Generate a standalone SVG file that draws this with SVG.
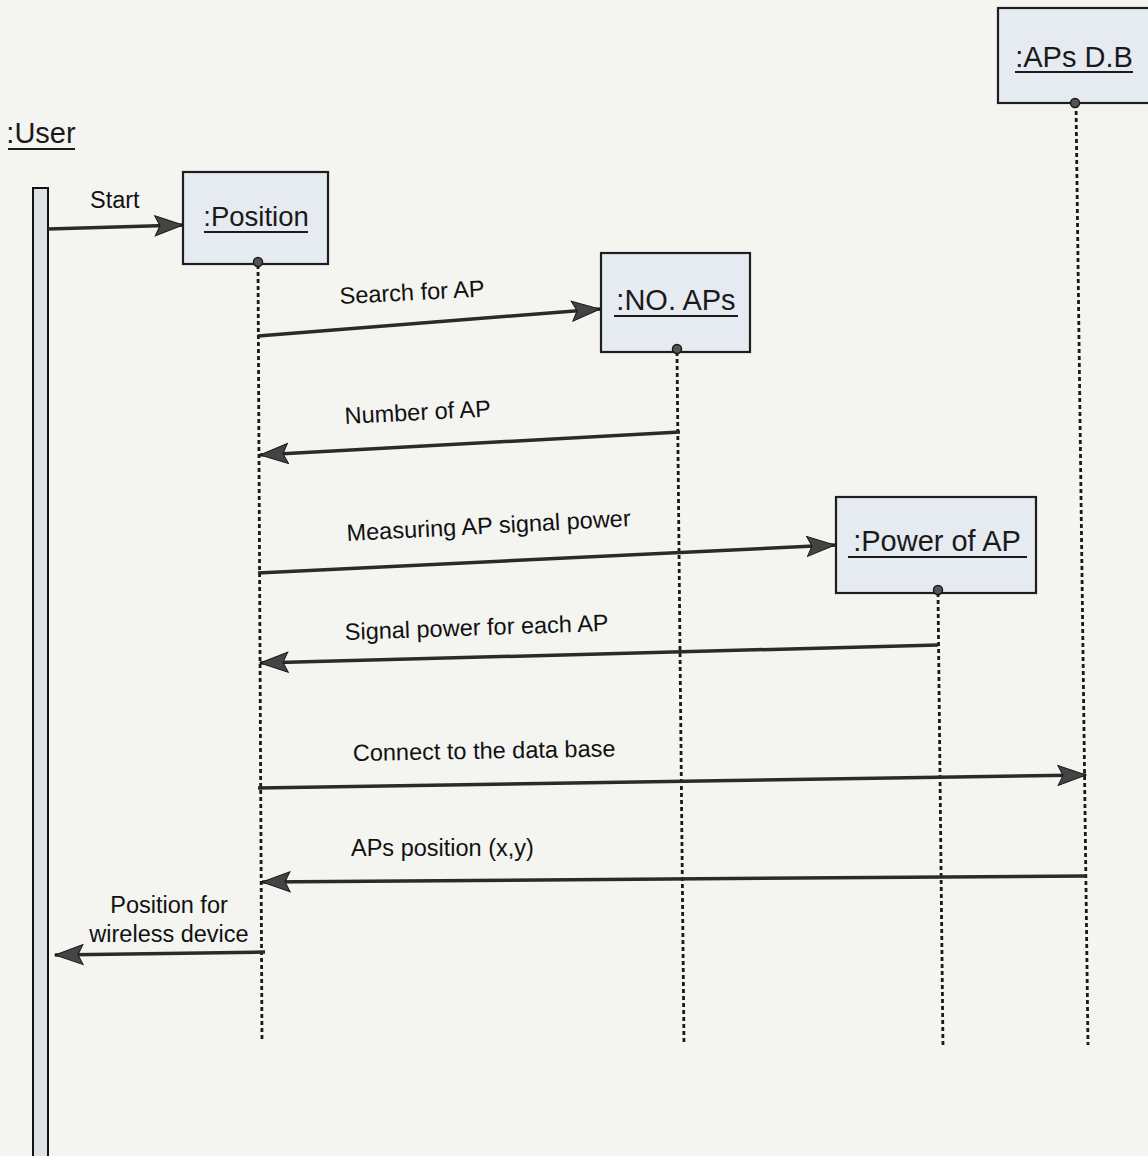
<svg xmlns="http://www.w3.org/2000/svg" width="1148" height="1156" viewBox="0 0 1148 1156">
<style>
.bg{fill:#f4f4f1}
.box{fill:#e6eaf1;stroke:#1e1e1e;stroke-width:2.2}
.title{font-family:"Liberation Sans",Arial,sans-serif;font-size:29px;fill:#1a1a1a;text-anchor:middle}
.ul{stroke:#1a1a1a;stroke-width:2}
.life{stroke:#1a1a1a;stroke-width:2.8;stroke-dasharray:4 3;fill:none}
.dot{fill:#555;stroke:#1a1a1a;stroke-width:1.5}
.msg{stroke:#2a2a2a;stroke-width:3.5;fill:none;marker-end:url(#arr)}
.lbl{font-family:"Liberation Sans",Arial,sans-serif;font-size:23.5px;fill:#111}
.act{fill:#dfe2e5;stroke:#111;stroke-width:2}
</style>
<defs>
<marker id="arr" markerUnits="userSpaceOnUse" markerWidth="32" markerHeight="22" refX="29" refY="11" orient="auto">
<path d="M1,1 L29,11 L1,21 L6,11 Z" fill="#444" stroke="#1a1a1a" stroke-width="1"/>
</marker>
</defs>
<rect class="bg" x="0" y="0" width="1148" height="1156"/>

<g id="user">
<text class="title" x="41" y="143">:User</text>
<line class="ul" x1="8" y1="149" x2="75" y2="149"/>
<rect class="act" x="33" y="188" width="15" height="975"/>
</g>

<g id="position">
<rect class="box" x="183" y="172" width="145" height="92"/>
<text class="title" x="256" y="226" style="font-size:27.5px">:Position</text>
<line class="ul" x1="204" y1="232" x2="308" y2="232"/>
<line class="life" x1="258" y1="265" x2="262" y2="1042"/>
<circle class="dot" cx="258" cy="262" r="4.5"/>
</g>

<g id="noaps">
<rect class="box" x="601" y="253" width="149" height="99"/>
<text class="title" x="676" y="310">:NO. APs</text>
<line class="ul" x1="614" y1="316" x2="738" y2="316"/>
<line class="life" x1="677" y1="352" x2="684" y2="1045"/>
<circle class="dot" cx="677" cy="349" r="4.5"/>
</g>

<g id="power">
<rect class="box" x="836" y="497" width="200" height="96"/>
<text class="title" x="937" y="551">:Power of AP</text>
<line class="ul" x1="848" y1="557" x2="1027" y2="557"/>
<line class="life" x1="938" y1="593" x2="943" y2="1048"/>
<circle class="dot" cx="938" cy="590" r="4.5"/>
</g>

<g id="apsdb">
<rect class="box" x="998" y="8" width="152" height="95"/>
<text class="title" x="1074" y="67">:APs D.B</text>
<line class="ul" x1="1015" y1="72" x2="1133" y2="72"/>
<line class="life" x1="1076" y1="104" x2="1088" y2="1045"/>
<circle class="dot" cx="1075" cy="103" r="4.5"/>
</g>

<g id="connectors">
<line class="msg" x1="48" y1="229" x2="183" y2="225"/>
<text class="lbl" x="90" y="208">Start</text>

<line class="msg" x1="258" y1="336" x2="600" y2="309"/>
<text class="lbl" x="340" y="304" transform="rotate(-3 340 304)">Search for AP</text>

<line class="msg" x1="680" y1="432" x2="260" y2="455"/>
<text class="lbl" x="345" y="424" transform="rotate(-3 345 424)">Number of AP</text>

<line class="msg" x1="258" y1="573" x2="835" y2="545"/>
<text class="lbl" x="347" y="541" transform="rotate(-3 347 541)">Measuring AP signal power</text>

<line class="msg" x1="938" y1="645" x2="260" y2="663"/>
<text class="lbl" x="345" y="640" transform="rotate(-2 345 640)">Signal power for each AP</text>

<line class="msg" x1="258" y1="788" x2="1086" y2="775"/>
<text class="lbl" x="353" y="761" transform="rotate(-1 353 761)">Connect to the data base</text>

<line class="msg" x1="1087" y1="876" x2="262" y2="882"/>
<text class="lbl" x="351" y="856">APs position (x,y)</text>

<line class="msg" x1="265" y1="952" x2="55" y2="955"/>
<text class="lbl" x="169" y="913" text-anchor="middle">Position for</text>
<text class="lbl" x="169" y="942" text-anchor="middle">wireless device</text>
</g>
</svg>
